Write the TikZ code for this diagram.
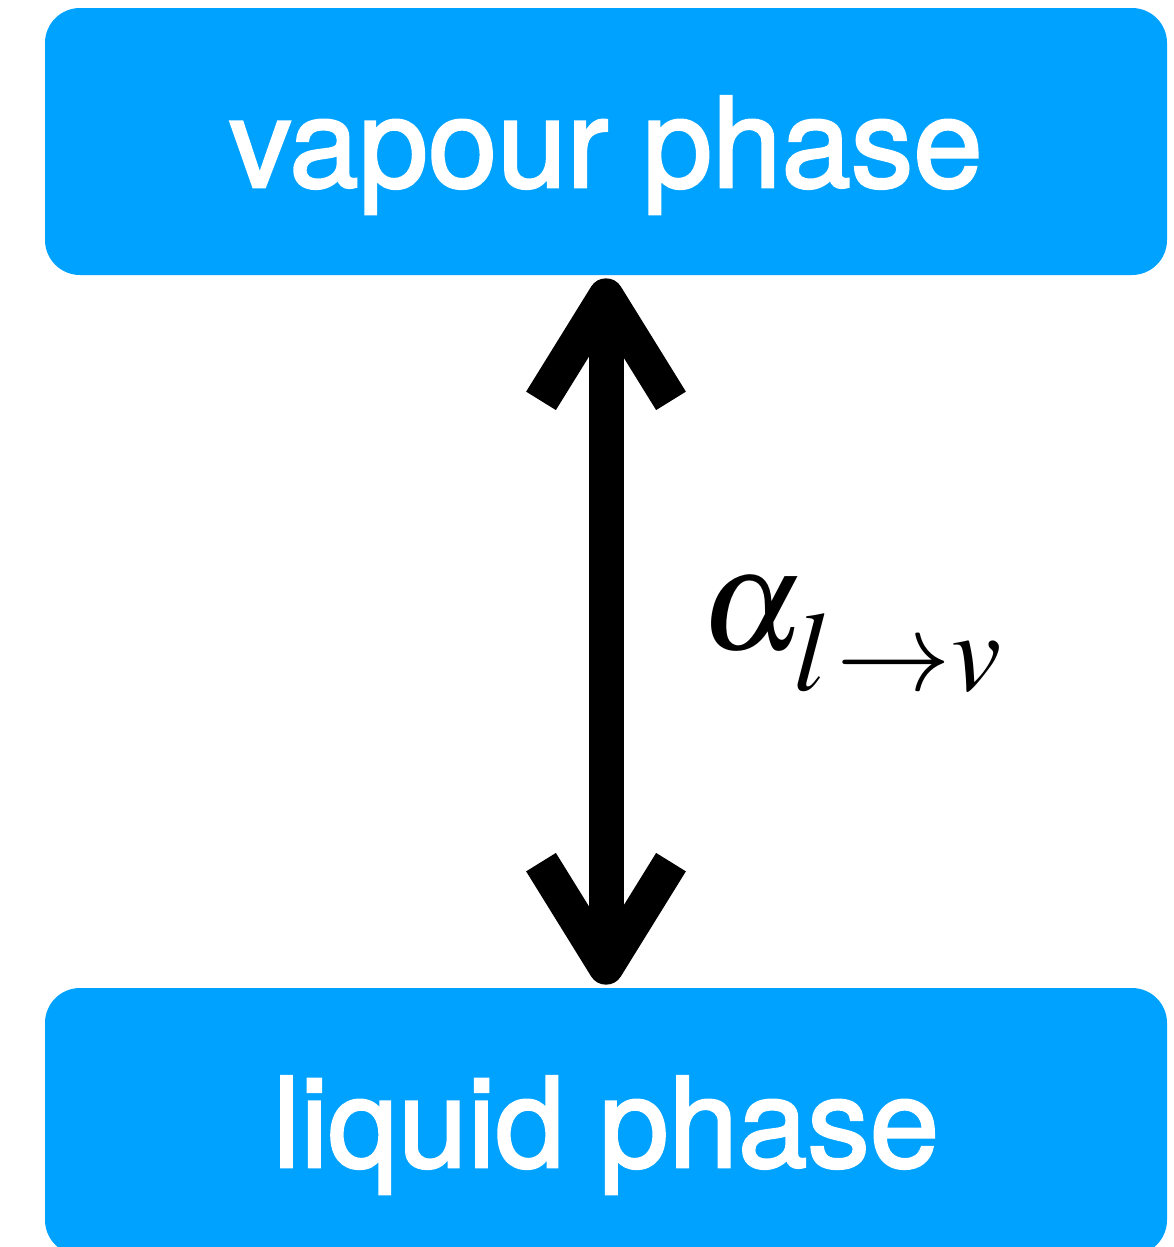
\documentclass[tikz,border=0pt]{standalone}
\usepackage{mathptmx}
\usepackage{graphicx}
\usepackage{fontspec}
\newfontfamily\heros{TeX Gyre Heros}[FakeBold=2]
\usetikzlibrary{arrows.meta}
\definecolor{phaseblue}{RGB}{0,162,255}

\begin{document}
\begin{tikzpicture}[
  phase/.style={rounded corners=0.7cm, fill=phaseblue, draw=none, minimum width=22.44cm, minimum height=5.34cm,
    text=white, font=\heros\fontsize{71}{80}\selectfont, text height=1.82cm, text depth=0pt},
  flux/.style={line width=0.7cm, {Straight Barb[length=2.1cm, width=2.6cm, line join=round, line cap=butt]}-{Straight Barb[length=2.1cm, width=2.6cm, line join=round, line cap=butt]}, shorten <=0.06cm, shorten >=0.06cm},
  rate/.style={font=\fontsize{83}{90}\selectfont, anchor=base west, inner sep=0pt}
]
\useasboundingbox (0,0) rectangle (23.48,-24.94);

% Vapour phase (top)
\node[phase] (vap) at (12.12, -2.83) {vapour phase};

% Liquid phase (bottom, cut off by the frame)
\node[phase] (liq) at (12.12, -22.43) {liquid phase};

% Exchange between the phases
\draw[flux] (vap.south) -- (liq.north);
\node[rate] (alpha) at (14.0, -12.98) {$\alpha$\kern-0.22cm\raisebox{-0.82cm}{\fontsize{64}{70}\selectfont$l\kern0.12cm\scalebox{1.02}[1]{$\rightarrow$}v$}};

\end{tikzpicture}
\end{document}
